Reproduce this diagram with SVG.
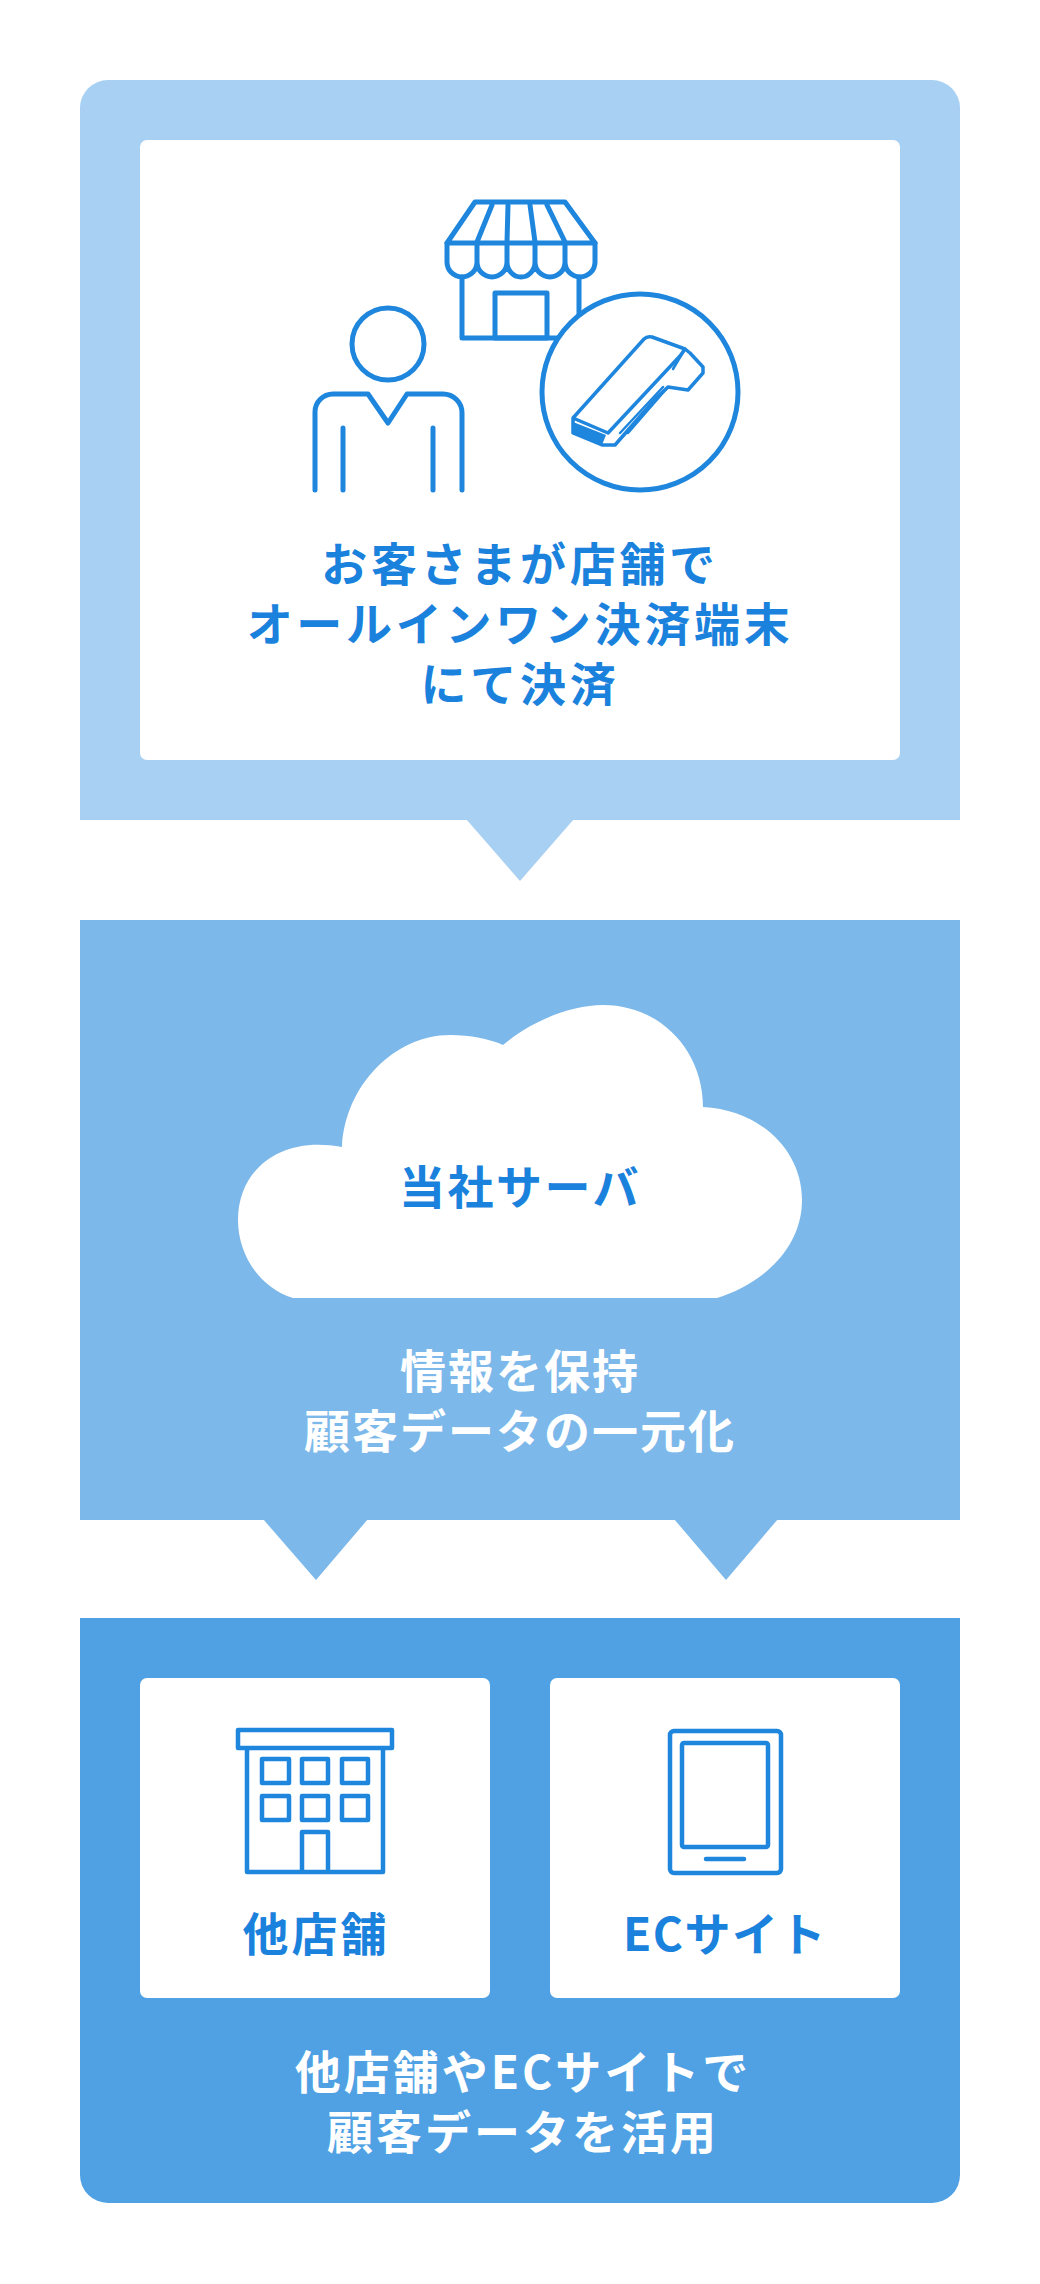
<svg xmlns="http://www.w3.org/2000/svg" width="1040" height="2284" viewBox="0 0 1040 2284">
<style>
.t{font-family:"Noto Sans CJK JP","Noto Sans",sans-serif;font-weight:700;font-size:46px;letter-spacing:3px;text-anchor:middle}
.p1{letter-spacing:3.700px}
.p2{letter-spacing:2px}
.b{fill:#1a82dc}.w{fill:#fff}
.i{fill:none;stroke:#1f86de;stroke-width:5;stroke-linejoin:round;stroke-linecap:round}
.k{fill:none;stroke:#1f86de;stroke-width:4.500;stroke-linejoin:round;stroke-linecap:round}
.j{fill:none;stroke:#1f86de;stroke-width:2.500;stroke-linejoin:round;stroke-linecap:round}
.card{fill:#fff}
</style>
<rect width="1040" height="2284" fill="#fff"/>
<g id="connectors">
<polygon points="466,819 574,819 520,881" fill="#a8d0f2"/>
<polygon points="263,1519 368,1519 316,1580" fill="#7cb8ea"/>
<polygon points="674,1519 778,1519 726,1580" fill="#7cb8ea"/>
</g>
<g id="node-payment">
<path d="M80 820V108a28 28 0 0 1 28-28H932a28 28 0 0 1 28 28V820Z" fill="#a8d0f2"/>
<rect class="card" x="140" y="140" width="760" height="620" rx="7"/>
<g id="icon-store">
<path class="i" d="M475 202H565L595 243H447Z"/>
<path class="i" d="M447 243V262A15 15 0 0 0 477 262V243M477 262A15 15 0 0 0 507 262V243M507 262A14 15 0 0 0 535 262V243M535 262A15 15 0 0 0 565 262V243M565 262A15 15 0 0 0 595 262V243"/>
<path class="i" d="M492 205L477 242M508 205L507 242M530 205L535 242M547 205L565 242"/>
<path class="i" d="M462 277V338H579V277"/>
<rect class="i" x="495" y="293" width="52" height="45"/>
</g>
<g id="icon-person">
<circle class="i" cx="388" cy="344" r="36"/>
<path class="i" d="M315 490V412A18 18 0 0 1 333 394H368L388 423L407 394H443A19 19 0 0 1 462 413V490M343 428V490M433 428V490"/>
</g>
<g id="icon-terminal">
<circle cx="640" cy="392" r="98" fill="#fff" stroke="#1f86de" stroke-width="5"/>
<path class="k" d="M573 418L644 339Q647 336 652 337L685 349L680 356L608 433ZM573 418V433L602 445H615L657 397L668 387L688 390L703 373V367L690 353L685 349" style="stroke-width:3.500px"/>
<polygon points="573,422 606,435 602,445 573,433" fill="#1f86de"/>
<path class="j" d="M620 433L663 387M628 433L668 387M685 349L673 369"/>
</g>
<text class="t b p1" x="520" y="581">お客さまが店舗で</text>
<text class="t b p1" x="520" y="641">オールインワン決済端末</text>
<text class="t b p1" x="520" y="701">にて決済</text>
</g>
<g id="node-server">
<rect x="80" y="920" width="880" height="600" fill="#7cb8ea"/>
<path class="w" d="M293 1298C260 1288 238 1255 238 1220C238 1170 280 1135 342 1147C345 1085 395 1035 450 1035C470 1035 490 1039 503 1045C530 1022 570 1005 603 1005C660 1005 703 1050 703 1107C760 1110 802 1150 802 1200C802 1250 760 1285 717 1298Z"/>
<text class="t b" x="520" y="1204" style="letter-spacing:2.500px">当社サーバ</text>
<text class="t w p2" x="520" y="1388">情報を保持</text>
<text class="t w p2" x="520" y="1448">顧客データの一元化</text>
</g>
<g id="node-use">
<path d="M80 1618H960V2175a28 28 0 0 1-28 28H108a28 28 0 0 1-28-28Z" fill="#4fa1e3"/>
<g id="node-other-stores">
<rect class="card" x="140" y="1678" width="350" height="320" rx="7"/>
<path class="k" d="M238 1730H392V1748H238ZM247 1748V1872H383V1748M302 1872V1832H328V1872"/>
<rect class="k" x="262" y="1759" width="27" height="24"/><rect class="k" x="302" y="1759" width="26" height="24"/><rect class="k" x="342" y="1759" width="26" height="24"/>
<rect class="k" x="262" y="1796" width="27" height="24"/><rect class="k" x="302" y="1796" width="26" height="24"/><rect class="k" x="342" y="1796" width="26" height="24"/>
<text class="t b" x="316" y="1951">他店舗</text>
</g>
<g id="node-ec">
<rect class="card" x="550" y="1678" width="350" height="320" rx="7"/>
<rect class="k" x="670" y="1731" width="111" height="142" rx="4"/>
<rect class="k" x="682" y="1743" width="86" height="104" rx="2"/>
<path class="k" d="M706 1859H744"/>
<text class="t b" x="725" y="1951" style="letter-spacing:1.500px">ECサイト</text>
</g>
<text class="t w" x="523" y="2089">他店舗やECサイトで</text>
<text class="t w" x="523" y="2149">顧客データを活用</text>
</g>
</svg>
